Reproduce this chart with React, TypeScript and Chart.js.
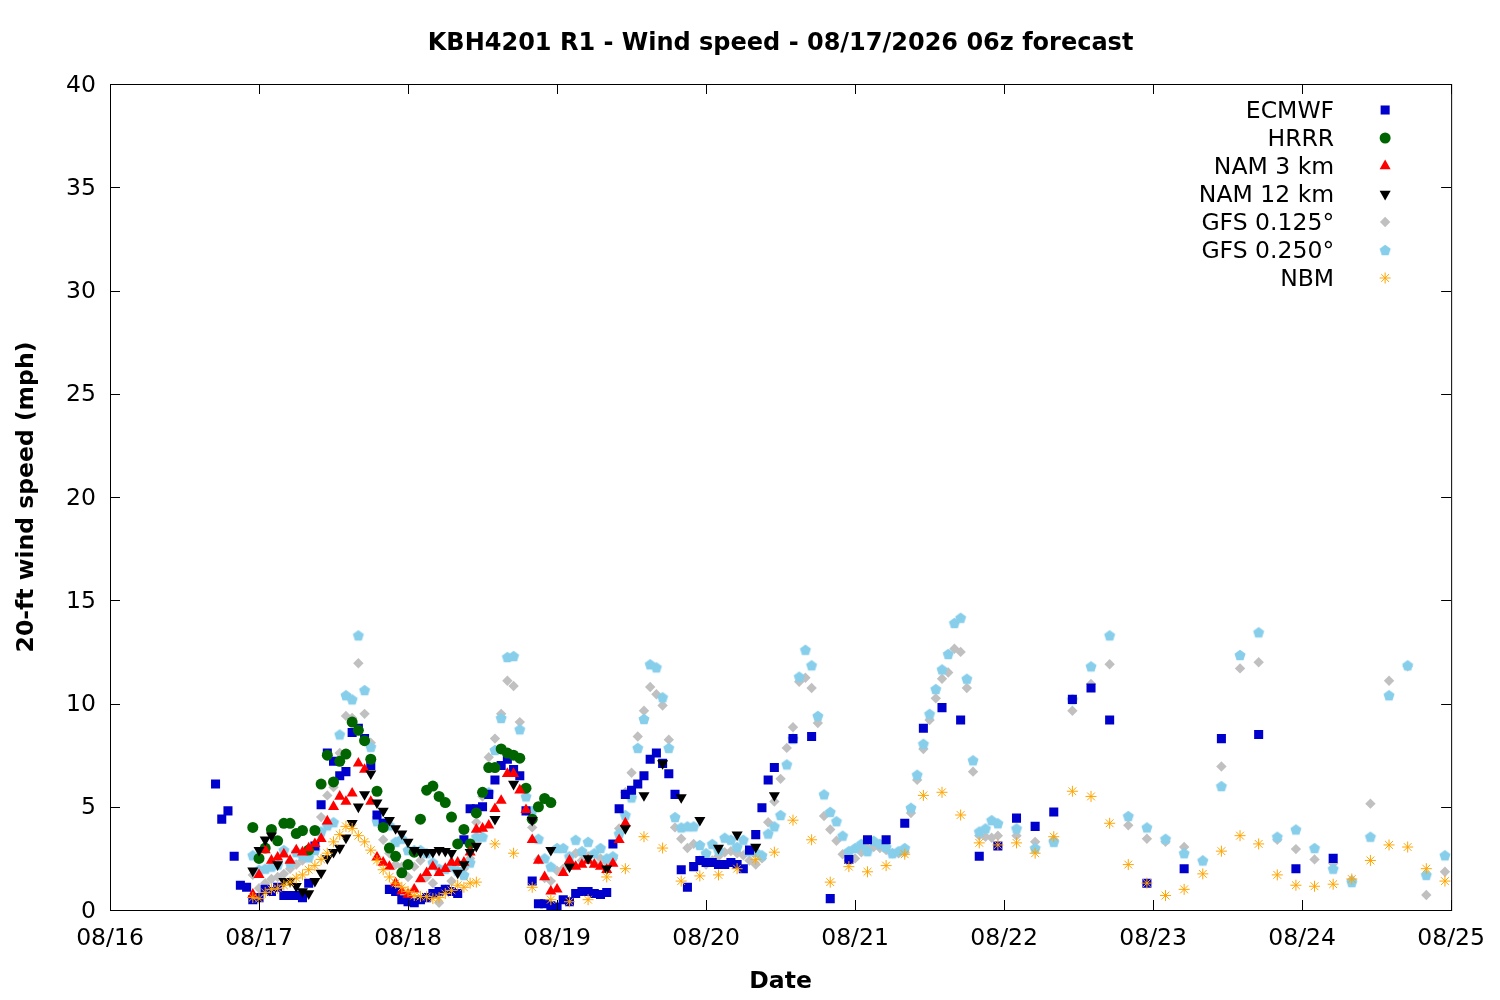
import React, { useEffect, useRef } from "react";
import { Chart, registerables } from "chart.js";
import { drawPoint } from "chart.js/helpers";

Chart.register(...registerables);

// hours are counted from 08/16 00:00 local time
const dateTicks = ["08/16", "08/17", "08/18", "08/19", "08/20", "08/21", "08/22", "08/23", "08/24", "08/25"];

// ECMWF: hourly 17-107, 3-hourly 110-161, 6-hourly 167-197
const ecmwfHourly = [
  6.1, 4.4, 4.8, 2.6, 1.2, 1.1, 0.5, 0.6, 1.0, 0.9, 1.1, 0.7, 0.7, 0.7, 0.6, 1.3, 3.1, 5.1, 7.6, 7.2,
  6.5, 6.7, 8.6, 8.8, 8.3, 7.0, 4.6, 4.2, 1.0, 0.9, 0.5, 0.4, 0.35, 0.5, 0.6, 0.8, 0.9, 1.0, 0.9, 0.8,
  3.4, 4.9, 4.9, 5.0, 5.6, 6.3, 7.0, 7.3, 6.8, 6.5, 4.8, 1.4, 0.3, 0.3, 0.2, 0.15, 0.5, 0.4, 0.8, 0.9,
  0.9, 0.8, 0.75, 0.85, 3.2, 4.9, 5.6, 5.8, 6.1, 6.5, 7.3, 7.6, 7.1, 6.6, 5.6, 1.95, 1.1, 2.1, 2.4, 2.3,
  2.3, 2.2, 2.2, 2.3, 2.2, 2.0, 2.9, 3.65, 4.95, 6.3, 6.9,
];
const ecmwf3h = [8.3, 8.4, 0.55, 2.45, 3.4, 3.4, 4.2, 8.8, 9.8, 9.2, 2.6, 3.1, 4.45, 4.05, 4.75, 10.2, 10.75, 9.2];
const ecmwf6h = [1.3, 2.0, 8.3, 8.5, 2.0, 2.5];

// HRRR: hourly 23-71
const hrrrHourly = [
  4.0, 2.5, 3.0, 3.9, 3.35, 4.2, 4.2, 3.7, 3.85, 2.9, 3.85, 6.1, 7.5, 6.2, 7.2, 7.55, 9.1, 8.7, 8.2, 7.3,
  5.75, 4.0, 3.0, 2.6, 1.8, 2.2, 2.8, 4.4, 5.8, 6.0, 5.5, 5.2, 4.5, 3.2, 3.9, 3.2, 4.7, 5.7, 6.9, 6.9,
  7.8, 7.6, 7.5, 7.35, 5.9, 4.4, 5.0, 5.4, 5.2,
];

// NAM 3 km: hourly 23-83
const nam3Hourly = [
  0.75, 1.7, 2.9, 2.4, 2.55, 2.7, 2.4, 2.9, 2.8, 3.0, 3.2, 3.45, 4.3, 5.0, 5.5, 5.25, 5.65, 7.1, 6.8, 5.25,
  2.55, 2.3, 2.1, 1.3, 0.9, 0.75, 1.0, 1.5, 1.8, 2.1, 1.8, 2.0, 2.3, 2.3, 2.3, 2.8, 3.9, 3.95, 4.1, 4.9,
  5.3, 6.6, 6.6, 5.8, 4.85, 3.4, 2.4, 1.6, 0.9, 1.0, 1.8, 2.4, 2.1, 2.2, 2.4, 2.2, 2.1, 1.95, 2.25, 3.4,
  4.2,
];

// NAM 12 km: hourly 23-59, 3-hourly 62-107
const nam12Hourly = [
  1.9, 2.9, 3.4, 3.6, 2.2, 1.4, 1.4, 1.15, 0.9, 0.8, 1.4, 1.8, 2.5, 2.8, 3.0, 3.5, 4.2, 5.0, 5.6, 6.6,
  5.2, 4.8, 4.35, 3.95, 3.7, 3.3, 2.9, 2.8, 2.8, 2.8, 2.9, 2.85, 2.75, 1.8, 2.2, 2.8, 3.1,
];
const nam12_3h = [4.4, 6.1, 4.35, 2.9, 2.1, 2.5, 2.0, 3.95, 5.55, 7.1, 5.45, 4.35, 3.0, 3.65, 3.05, 5.55];

// GFS 0.125: hourly 23-143, 3-hourly 146-215
const gfs125Hourly = [
  1.7, 1.05, 1.3, 1.5, 1.6, 1.75, 2.0, 2.2, 2.4, 2.6, 3.0, 4.5, 5.55, 5.95, 7.6, 9.4, 9.3, 11.95, 9.5, 8.1,
  4.5, 3.4, 2.75, 2.2, 2.1, 1.6, 2.1, 2.4, 1.6, 1.3, 0.35, 1.0, 1.4, 1.8, 2.0, 2.5, 4.25, 5.5, 7.4, 8.3,
  9.5, 11.1, 10.85, 9.1, 4.8, 4.0, 2.45, 1.55, 1.4, 1.9, 2.0, 2.3, 2.75, 2.4, 2.6, 2.25, 2.5, 2.3, 2.5, 3.95,
  5.7, 6.65, 8.4, 9.65, 10.8, 10.45, 9.9, 8.25, 4.0, 3.45, 3.0, 3.2, 2.4, 2.2, 2.4, 2.6, 2.8, 2.85, 2.75, 2.65,
  2.4, 2.2, 2.5, 4.25, 5.25, 6.35, 7.85, 8.85, 11.05, 11.25, 10.75, 9.05, 4.55, 3.9, 3.35, 2.7, 2.4, 2.5, 2.8, 3.0,
  3.05, 3.0, 2.9, 2.75, 2.75, 2.8, 4.7, 6.3, 7.8, 9.2, 10.25, 11.2, 11.5, 12.65, 12.5, 10.75, 6.7, 3.6, 3.55, 3.5,
  3.6,
];
const gfs125_3h = [
  3.6, 3.3, 3.4, 9.65, 10.95, 11.9, 4.1, 3.45, 3.3, 3.05, 2.4, 6.95, 11.7, 12.0, 3.4, 2.95, 2.45, 2.25, 1.45, 5.15,
  11.1, 11.8, 0.73, 1.85,
];

// GFS 0.250: hourly 23-143, 3-hourly 146-215
const gfs250Hourly = [
  2.65, 1.95, 2.0, 2.1, 2.2, 2.9, 2.3, 2.8, 2.65, 2.55, 2.9, 3.8, 4.1, 4.25, 8.5, 10.4, 10.2, 13.3, 10.65, 7.9,
  4.3, 4.2, 4.1, 3.3, 3.45, 2.9, 2.9, 2.9, 2.75, 2.3, 2.0, 2.0, 2.1, 1.9, 1.7, 2.3, 3.55, 3.55, 5.7, 7.75,
  9.3, 12.25, 12.3, 8.75, 5.5, 4.8, 3.45, 2.5, 2.1, 3.0, 3.0, 2.6, 3.4, 2.85, 3.3, 2.75, 3.0, 2.5, 2.6, 3.7,
  4.6, 5.45, 7.85, 9.25, 11.9, 11.75, 10.3, 7.85, 4.5, 4.0, 4.05, 4.05, 3.15, 2.75, 3.2, 2.9, 3.5, 3.4, 3.05, 3.4,
  2.85, 2.8, 2.65, 3.7, 4.05, 4.6, 7.05, 8.3, 11.3, 12.6, 11.85, 9.4, 5.6, 4.75, 4.3, 3.6, 2.85, 3.0, 3.2, 2.85,
  3.35, 3.2, 3.05, 2.75, 2.85, 3.0, 4.95, 6.55, 8.05, 9.5, 10.7, 11.65, 12.4, 13.9, 14.15, 11.2, 7.25, 3.8, 3.95, 4.35,
  4.2,
];
const gfs250_3h = [
  3.95, 3.0, 3.3, 10.2, 11.8, 13.3, 4.55, 4.0, 3.45, 2.75, 2.4, 6.0, 12.35, 13.45, 3.55, 3.9, 3.0, 2.0, 1.35, 3.55,
  10.4, 11.85, 1.7, 2.65,
];

// NBM: hourly 23-59, 3-hourly 62-215
const nbmHourly = [
  0.6, 0.55, 0.85, 1.0, 1.05, 1.2, 1.35, 1.55, 1.7, 1.95, 2.15, 2.45, 2.75, 3.3, 3.65, 4.05, 3.95, 3.6, 3.3, 2.9,
  2.4, 1.95, 1.6, 1.3, 1.1, 0.9, 0.7, 0.65, 0.65, 0.55, 0.6, 0.8, 0.95, 1.2, 1.1, 1.3, 1.35,
];
const nbm3h = [
  3.2, 2.75, 1.1, 0.5, 0.4, 0.5, 1.6, 2.0, 3.55, 3.0, 1.4, 1.65, 1.7, 2.0, 2.45, 2.8, 4.35, 3.4, 1.35, 2.1,
  1.85, 2.15, 2.7, 5.55, 5.7, 4.6, 3.25, 3.15, 3.25, 2.75, 3.55, 5.75, 5.5, 4.2, 2.2, 1.3, 0.7, 1.0, 1.75, 2.85,
  3.6, 3.2, 1.7, 1.2, 1.15, 1.25, 1.5, 2.4, 3.15, 3.05, 2.0, 1.4,
];

const FONT = '"DejaVu Sans", "Liberation Sans", sans-serif';

function run(start: number, step: number, values: number[]) {
  return values.map((v, i) => ({ x: start + i * step, y: v }));
}

function makePentagon(color: string, r: number) {
  const size = Math.ceil(r * 2) + 2;
  const c = document.createElement("canvas");
  c.width = size;
  c.height = size;
  const g = c.getContext("2d")!;
  g.fillStyle = color;
  g.beginPath();
  for (let i = 0; i < 5; i++) {
    const a = -Math.PI / 2 + (i * 2 * Math.PI) / 5;
    const px = size / 2 + r * Math.cos(a);
    const py = size / 2 + 0.6 + r * Math.sin(a);
    if (i === 0) g.moveTo(px, py);
    else g.lineTo(px, py);
  }
  g.closePath();
  g.fill();
  return c;
}

const gnuplotLook = {
  id: "gnuplotLook",
  afterDraw(chart: any) {
    const { ctx, chartArea: a, scales } = chart;
    ctx.save();
    ctx.strokeStyle = "#000";
    ctx.lineWidth = 1;
    ctx.strokeRect(a.left + 0.5, a.top + 0.5, a.right - a.left, a.bottom - a.top);

    // inward ticks on all four sides
    const tl = 10;
    ctx.beginPath();
    scales.x.ticks.forEach((t: any) => {
      const px = Math.round(scales.x.getPixelForValue(t.value)) + 0.5;
      ctx.moveTo(px, a.bottom);
      ctx.lineTo(px, a.bottom - tl);
      ctx.moveTo(px, a.top);
      ctx.lineTo(px, a.top + tl);
    });
    scales.y.ticks.forEach((t: any) => {
      const py = Math.round(scales.y.getPixelForValue(t.value)) + 0.5;
      ctx.moveTo(a.left, py);
      ctx.lineTo(a.left + tl, py);
      ctx.moveTo(a.right, py);
      ctx.lineTo(a.right - tl, py);
    });
    ctx.stroke();

    // title
    ctx.fillStyle = "#000";
    ctx.font = `bold 24px ${FONT}`;
    ctx.textAlign = "center";
    ctx.textBaseline = "middle";
    ctx.fillText("KBH4201 R1 - Wind speed - 08/17/2026 06z forecast", (a.left + a.right) / 2, 44);

    // key: label right-aligned, sample to its right
    ctx.font = `23.5px ${FONT}`;
    ctx.textAlign = "right";
    chart.data.datasets.forEach((ds: any, i: number) => {
      const y = a.top + 26 + i * 28;
      ctx.fillStyle = "#000";
      ctx.fillText(ds.label, a.right - 117, y + 1.5);
      ctx.fillStyle = ds.backgroundColor;
      ctx.strokeStyle = ds.borderColor;
      ctx.lineWidth = ds.borderWidth;
      drawPoint(
        ctx,
        {
          pointStyle: ds.pointStyle,
          rotation: ds.pointRotation || 0,
          radius: ds.pointRadius,
          borderWidth: ds.borderWidth,
        } as any,
        a.right - 66,
        y
      );
    });
    ctx.restore();
  },
};

const App: React.FC = () => {
  const canvasRef = useRef<HTMLCanvasElement>(null);
  const chartRef = useRef<Chart | null>(null);

  useEffect(() => {
    document.body.style.margin = "0";
    if (!canvasRef.current) return;
    const ctx = canvasRef.current.getContext("2d");
    if (!ctx) return;

    const pentagon = makePentagon("#87ceeb", 5.8);

    chartRef.current = new Chart(ctx, {
      type: "scatter",
      data: {
        datasets: [
          {
            label: "ECMWF",
            data: [...run(17, 1, ecmwfHourly), ...run(110, 3, ecmwf3h), ...run(167, 6, ecmwf6h)],
            pointStyle: "rect",
            pointRadius: 6.4,
            backgroundColor: "#0000cc",
            borderColor: "#0000cc",
            borderWidth: 0,
            order: 5,
          },
          {
            label: "HRRR",
            data: run(23, 1, hrrrHourly),
            pointStyle: "circle",
            pointRadius: 5.5,
            backgroundColor: "#006400",
            borderColor: "#006400",
            borderWidth: 0,
            order: 4,
          },
          {
            label: "NAM 3 km",
            data: run(23, 1, nam3Hourly),
            pointStyle: "triangle",
            pointRadius: 6.4,
            backgroundColor: "#ff0000",
            borderColor: "#ff0000",
            borderWidth: 0,
            order: 3,
          },
          {
            label: "NAM 12 km",
            data: [...run(23, 1, nam12Hourly), ...run(62, 3, nam12_3h)],
            pointStyle: "triangle",
            pointRotation: 180,
            pointRadius: 6.4,
            backgroundColor: "#000000",
            borderColor: "#000000",
            borderWidth: 0,
            order: 2,
          },
          {
            label: "GFS 0.125°",
            data: [...run(23, 1, gfs125Hourly), ...run(146, 3, gfs125_3h)],
            pointStyle: "rectRot",
            pointRadius: 5.2,
            backgroundColor: "#c0c0c0",
            borderColor: "#c0c0c0",
            borderWidth: 0,
            order: 7,
          },
          {
            label: "GFS 0.250°",
            data: [...run(23, 1, gfs250Hourly), ...run(146, 3, gfs250_3h)],
            pointStyle: pentagon,
            pointRadius: 5.8,
            backgroundColor: "#87ceeb",
            borderColor: "#87ceeb",
            borderWidth: 0,
            order: 6,
          },
          {
            label: "NBM",
            data: [...run(23, 1, nbmHourly), ...run(62, 3, nbm3h)],
            pointStyle: "star",
            pointRadius: 5.5,
            backgroundColor: "#ffa500",
            borderColor: "#ffa500",
            borderWidth: 1,
            order: 1,
          },
        ] as any,
      },
      options: {
        responsive: false,
        animation: false,
        devicePixelRatio: 1,
        layout: { padding: { left: 0, right: 46, top: 84, bottom: 0 } },
        plugins: {
          legend: { display: false },
          tooltip: { enabled: false },
          title: { display: false },
        },
        scales: {
          x: {
            type: "linear",
            min: 0,
            max: 216,
            grid: { display: false, drawTicks: false, tickLength: 0 },
            border: { display: false },
            ticks: {
              stepSize: 24,
              autoSkip: false,
              maxRotation: 0,
              padding: 15,
              color: "#000",
              font: { family: FONT, size: 23.5 },
              callback: (v: any) => dateTicks[Math.round(Number(v) / 24)],
            },
            title: {
              display: true,
              text: "Date",
              color: "#000",
              font: { family: FONT, size: 23.5, weight: "bold" },
              padding: { top: 0, bottom: 4 },
            },
            afterFit: (scale: any) => {
              scale.height = 90;
            },
          },
          y: {
            type: "linear",
            min: 0,
            max: 40,
            grid: { display: false, drawTicks: false, tickLength: 0 },
            border: { display: false },
            ticks: {
              stepSize: 5,
              padding: 14,
              labelOffset: 1.5,
              color: "#000",
              font: { family: FONT, size: 23.5 },
            },
            title: {
              display: true,
              text: "20-ft wind speed (mph)",
              color: "#000",
              font: { family: FONT, size: 23.5, weight: "bold" },
              padding: { top: 13, bottom: 0 },
            },
            afterFit: (scale: any) => {
              scale.width = 110;
            },
          },
        },
      },
      plugins: [gnuplotLook],
    });

    return () => {
      if (chartRef.current) {
        chartRef.current.destroy();
        chartRef.current = null;
      }
    };
  }, []);

  return (
    <div style={{ width: 1500, height: 1000 }}>
      <canvas ref={canvasRef} width={1500} height={1000} />
    </div>
  );
};

export default App;
